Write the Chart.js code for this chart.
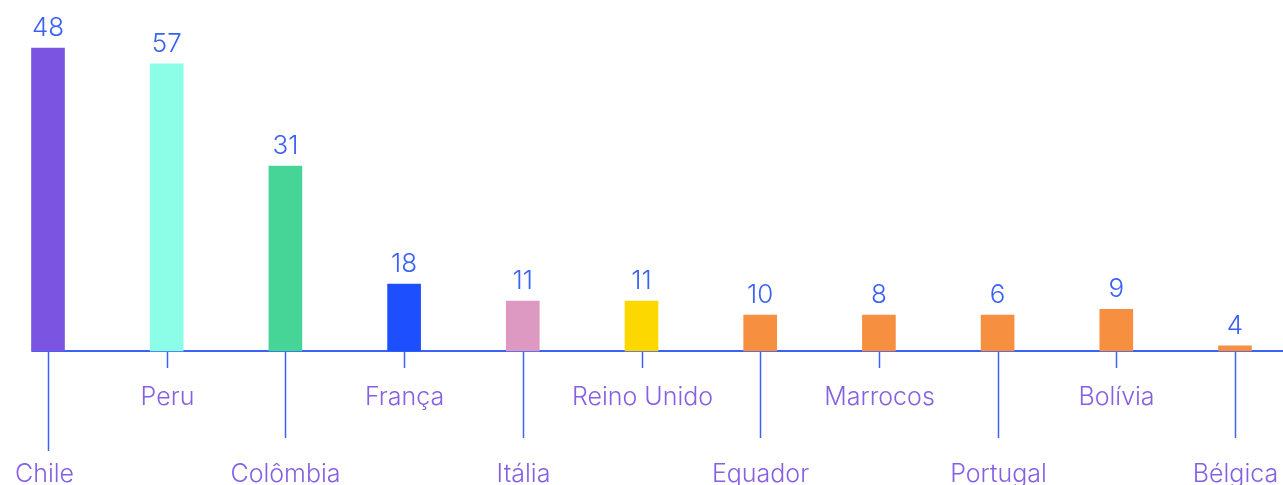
<!DOCTYPE html>
<html>
<head>
<meta charset="utf-8">
<script src="https://cdn.jsdelivr.net/npm/chart.js@4/dist/chart.umd.min.js"></script>
<style>
  html, body { margin: 0; padding: 0; background: #fff; }
  #wrap { width: 1283px; height: 485px; position: relative; }
</style>
</head>
<body>
<div id="wrap"><canvas id="chart"></canvas></div>
<script>
const countries = ["Chile", "Peru", "Colômbia", "França", "Itália", "Reino Unido", "Equador", "Marrocos", "Portugal", "Bolívia", "Bélgica"];
// printed numbers above each bar
const valueLabels = [48, 57, 31, 18, 11, 11, 10, 8, 6, 9, 4];
// bar heights as drawn in the picture (not proportional to the printed numbers)
const barHeights = [48, 45.5, 29.3, 10.6, 7.9, 7.9, 5.7, 5.7, 5.7, 6.6, 0.8];
const barColors = ["#7b55e2", "#8cfee8", "#47d597", "#1e4fff", "#dd99c1", "#fdd800", "#f78f41", "#f78f41", "#f78f41", "#f78f41", "#f78f41"];

const blue = "#3b62f6";
const purple = "#8660e3";
const font = "Inter, 'DejaVu Sans', sans-serif";

const labelPlugin = {
    id: "labels",
    beforeDatasetsDraw(chart) {
        const ctx = chart.ctx;
        const x = chart.scales.x;
        const y = chart.scales.y;
        const base = y.getPixelForValue(0);
        ctx.save();
        ctx.strokeStyle = blue;
        ctx.lineWidth = 2;
        ctx.beginPath();
        ctx.moveTo(x.getPixelForValue(0) - 16.5, base);
        ctx.lineTo(chart.width, base);
        ctx.stroke();

        ctx.lineWidth = 1.5;
        ctx.font = "300 25px " + font;
        ctx.fillStyle = purple;
        ctx.textAlign = "center";
        ctx.textBaseline = "alphabetic";
        countries.forEach((c, i) => {
            const px = Math.round(x.getPixelForValue(i)) + 0.5;
            const long = i % 2 === 0;
            const tickEnd = i === 0 ? base + 100 : (long ? base + 87 : base + 17);
            ctx.beginPath();
            ctx.moveTo(px, base);
            ctx.lineTo(px, tickEnd);
            ctx.stroke();
            const ty = long ? base + 131 : base + 54;
            ctx.fillText(c, i === 0 ? px - 4 : px, ty);
        });
        ctx.restore();
    },
    afterDatasetsDraw(chart) {
        const ctx = chart.ctx;
        const meta = chart.getDatasetMeta(0);
        ctx.save();
        ctx.font = "300 26px " + font;
        ctx.fillStyle = blue;
        ctx.textAlign = "center";
        ctx.textBaseline = "alphabetic";
        meta.data.forEach((bar, i) => {
            ctx.fillText(String(valueLabels[i]), bar.x, bar.y - 12);
        });
        ctx.restore();
    }
};

new Chart(document.getElementById("chart"), {
    type: "bar",
    data: {
        labels: countries,
        datasets: [{
            data: barHeights,
            backgroundColor: barColors,
            borderWidth: 0,
            barThickness: 33,
            clip: false,
        }]
    },
    options: {
        responsive: true,
        maintainAspectRatio: false,
        animation: false,
        layout: { padding: { left: 48, right: 48, top: 48, bottom: 134 } },
        plugins: {
            legend: { display: false },
            tooltip: { enabled: false },
        },
        scales: {
            x: { display: false, offset: false },
            y: { display: false, min: 0, max: 48 },
        }
    },
    plugins: [labelPlugin]
});
</script>
</body>
</html>
